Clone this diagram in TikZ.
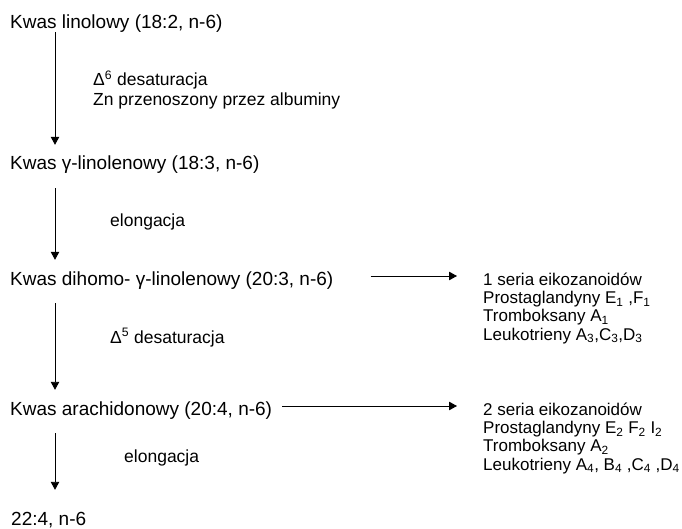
\documentclass[tikz,border=0pt]{standalone}
\usepackage{fontspec}
\setmainfont{Liberation Sans}
\usetikzlibrary{arrows.meta}
\begin{document}
\begin{tikzpicture}[x=1pt,y=-1pt,
  main/.style={anchor=base west, inner sep=0pt, font=\fontsize{19}{22}\selectfont, text height=14pt, text depth=4pt},
  note/.style={anchor=base west, inner sep=0pt, font=\fontsize{17.5}{20}\selectfont},
  side/.style={anchor=north west, inner sep=0pt, align=left, font=\fontsize{17}{18.3}\selectfont},
  arr/.style={-{Triangle[length=8pt,width=8.5pt]}, line width=0.9pt}]
\useasboundingbox (0,0) rectangle (682,529);
% main chain
\node[main] (n1) at (10,29) {Kwas linolowy (18:2, n-6)};
\node[main] (n2) at (10,170) {Kwas γ-linolenowy (18:3, n-6)};
\node[main] (n3) at (10,285) {Kwas dihomo- γ-linolenowy (20:3, n-6)};
\node[main] (n4) at (10,415) {Kwas arachidonowy (20:4, n-6)};
\node[main] (n5) at (11,525) {22:4, n-6};
% annotations
\node[note] (t1) at (93,86) {Δ\textsuperscript{6} desaturacja};
\node[note] (t1b) at (93,106) {Zn przenoszony przez albuminy};
\node[note] (t2) at (110,226) {elongacja};
\node[note] (t3) at (110,343) {Δ\textsuperscript{5} desaturacja};
\node[note] (t4) at (124,462) {elongacja};
% side boxes
\node[side] (r1) at (483,272.5) {1 seria eikozanoidów\\
  Prostaglandyny E\textsubscript{1} ,F\textsubscript{1}\\
  Tromboksany A\textsubscript{1}\\
  Leukotrieny A\textsubscript{3},C\textsubscript{3},D\textsubscript{3}};
\node[side] (r2) at (483,402.5) {2 seria eikozanoidów\\
  Prostaglandyny E\textsubscript{2} F\textsubscript{2} I\textsubscript{2}\\
  Tromboksany A\textsubscript{2}\\
  Leukotrieny A\textsubscript{4}, B\textsubscript{4} ,C\textsubscript{4} ,D\textsubscript{4}};
% vertical arrows
\draw[arr] ([shift={(45pt,1pt)}]n1.south west) -- ([shift={(45pt,11pt)}]n2.north west);
\draw[arr] ([shift={(45pt,-14pt)}]n2.south west) -- ([shift={(45pt,11pt)}]n3.north west);
\draw[arr] ([shift={(45pt,-14pt)}]n3.south west) -- ([shift={(45pt,11pt)}]n4.north west);
\draw[arr] ([shift={(45pt,-14pt)}]n4.south west) -- ([shift={(44pt,21pt)}]n5.north west);
% horizontal arrows
\coordinate (h1) at ([yshift=4pt]n3.east);
\coordinate (h2) at ([yshift=4pt]n4.east);
\draw[arr, shorten >=26pt] ([xshift=37pt]h1) -- (h1 -| r1.west);
\draw[arr, shorten >=26pt] ([xshift=10pt]h2) -- (h2 -| r2.west);
\end{tikzpicture}
\end{document}
